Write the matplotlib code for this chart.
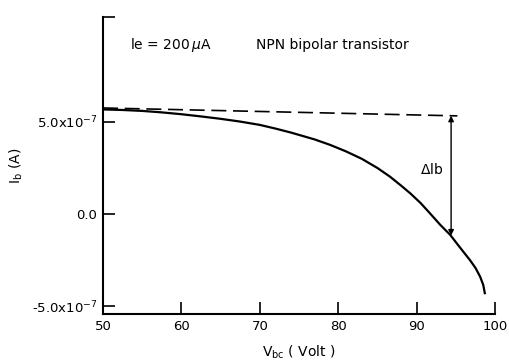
import numpy as np
import matplotlib.pyplot as plt

# base current vs collector-base voltage, Ie = 200 uA
v_bc = [50, 52.5, 55, 57.5, 60, 62.5, 65, 67.5, 70, 72, 74, 77, 79, 81, 83,
        85, 86.6, 88, 89.2, 90.5, 91.7, 93, 94.3, 95.5, 96.8, 97.5, 98.1,
        98.5, 98.7]
i_b = [5.68e-7, 5.65e-7, 5.6e-7, 5.52e-7, 5.42e-7, 5.3e-7, 5.17e-7, 5.02e-7,
       4.84e-7, 4.64e-7, 4.42e-7, 4.05e-7, 3.75e-7, 3.4e-7, 3.0e-7, 2.5e-7,
       2.03e-7, 1.55e-7, 1.12e-7, 0.6e-7, 0.04e-7, -0.58e-7, -1.14e-7,
       -1.8e-7, -2.5e-7, -2.92e-7, -3.4e-7, -3.85e-7, -4.3e-7]

# extrapolated (no breakdown) base current
v_ref = [50, 95.2]
i_ref = [5.76e-7, 5.33e-7]

# delta Ib marker
v_delta = 94.4
i_delta_low = -1.17e-7
i_delta_high = 5.34e-7

y_ticks = [-5e-7, 0.0, 5e-7, 1.07e-6]
y_labels = [r"-5.0x10$^{-7}$", "0.0", r"5.0x10$^{-7}$", ""]
x_ticks = [50, 60, 70, 80, 90, 100]

plt.rcParams["font.family"] = "DejaVu Sans"
plt.rcParams["mathtext.fontset"] = "dejavusans"

fig = plt.figure(figsize=(5.09, 3.61), dpi=100)
ax = fig.add_axes([0.2024, 0.1302, 0.7701, 0.8227])

ax.plot(v_bc, i_b, color="black", lw=1.6, solid_joinstyle="round")
ax.plot(v_ref, i_ref, color="black", lw=1.2, dashes=(9, 4))

ax.annotate(
    "",
    xy=(v_delta, i_delta_high),
    xytext=(v_delta, i_delta_low),
    arrowprops=dict(arrowstyle="<|-|>", color="black", lw=1.0,
                    mutation_scale=8, shrinkA=0, shrinkB=0)
)
ax.text(91.9, 2.4e-7, r"$\Delta$lb", fontsize=10, ha="center", va="center")

ax.text(53.4, 9.2e-7, r"le = 200$\,\mu$A", fontsize=10, va="center")
ax.text(69.5, 9.2e-7, "NPN bipolar transistor", fontsize=10, va="center")

ax.set_xlim(50, 100)
ax.set_ylim(-5.43e-7, 1.07e-6)
ax.set_xticks(x_ticks)
ax.set_yticks(y_ticks)
ax.set_yticklabels(y_labels)

ax.spines["top"].set_visible(False)
ax.spines["right"].set_visible(False)
for s in ["left", "bottom"]:
    ax.spines[s].set_linewidth(1.5)

ax.tick_params(direction="in", length=8.5, width=1.2, labelsize=9.5, pad=4)

ax.set_xlabel(r"V$_{\rm bc}$ ( Volt )", fontsize=10)
ax.xaxis.set_label_coords(0.5, -0.1)
ax.set_ylabel(r"I$_{\rm b}$ (A)", fontsize=10)
ax.yaxis.set_label_coords(-0.2, 0.5)

fig.savefig("out.png", dpi=100)
